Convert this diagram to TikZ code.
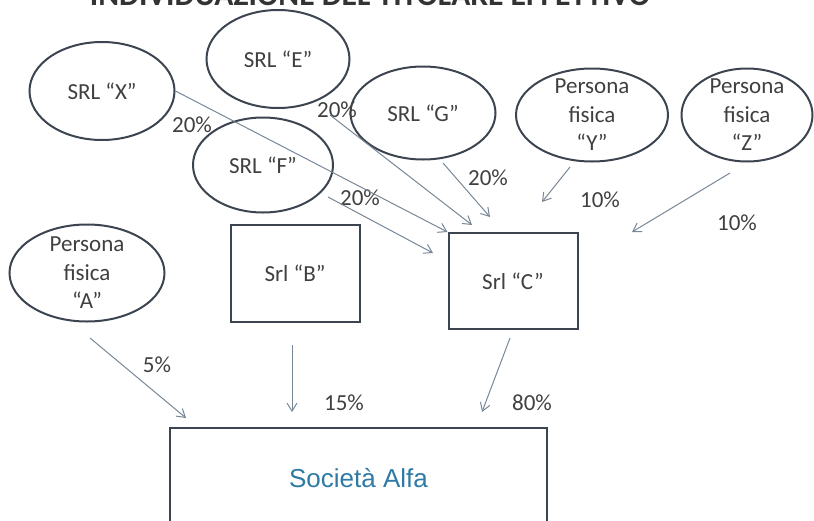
\documentclass[tikz,border=0pt]{standalone}
\usepackage{fontspec}
\setmainfont{Carlito}
\newfontfamily\arialfont{Liberation Sans}
\usetikzlibrary{shapes.geometric,arrows.meta}
\definecolor{edgegrey}{RGB}{60,68,80}
\definecolor{arrgrey}{RGB}{120,135,150}
\definecolor{txtgrey}{RGB}{64,64,64}
\definecolor{alfablue}{RGB}{46,122,165}

\begin{document}
\begin{tikzpicture}
         [x=0.5pt,y=-0.5pt,
          every node/.style={font=\fontsize{11.5}{14.25}\selectfont, text=txtgrey, inner sep=0pt},
          ent/.style={ellipse, draw=edgegrey, line width=1pt},
          box/.style={rectangle, draw=edgegrey, line width=1pt},
          arr/.style={draw=arrgrey, line width=0.5pt, -{Straight Barb[length=4pt,width=5pt]}}]
         \useasboundingbox (0,0) rectangle (814,520);
         \clip (0,0) rectangle (814,520);
         \node[font=\fontsize{15.8}{18}\selectfont\bfseries, text=black!80, anchor=base] (title) at (370,5) {INDIVIDUAZIONE DEL TITOLARE EFFETTIVO};
         % soci
         \node[ent, minimum width=72.5pt, minimum height=49pt] (x) at (102,91) {SRL “X”};
         \node[ent, minimum width=71.5pt, minimum height=49pt] (e) at (278,59) {SRL “E”};
         \node[ent, minimum width=70pt, minimum height=47.5pt] (f) at (263,165) {SRL “F”};
         \node[ent, minimum width=72.5pt, minimum height=46.5pt] (g) at (423,113) {SRL “G”};
         \node[ent, minimum width=76pt, minimum height=46.5pt, label={[align=center]center:Persona\\fisica\\“Y”}] (y) at (592,115) {};
         \node[ent, minimum width=65.5pt, minimum height=46.5pt, label={[align=center]center:Persona\\fisica\\“Z”}] (z) at (747,115) {};
         \node[ent, minimum width=77.5pt, minimum height=48.5pt, label={[align=center]center:Persona\\fisica\\“A”}] (a) at (87,273) {};
         \node[box, minimum width=64.5pt, minimum height=48.5pt] (b) at (295,273) {Srl “B”};
         \node[box, minimum width=64.5pt, minimum height=48pt] (c) at (513,281) {Srl “C”};
         \node[box, minimum width=188.5pt, minimum height=50pt, text=alfablue, font=\arialfont\fontsize{13}{15}\selectfont] (alfa) at (358.5,478) {Società Alfa};
         % quote
         \node (px) at (192,125) {20\%};
         \node (pe) at (337,110) {20\%};
         \node (pf) at (360,198) {20\%};
         \node (pg) at (488,178) {20\%};
         \node (py) at (600,200) {10\%};
         \node (pz) at (737,223) {10\%};
         \node (pa) at (157,365) {5\%};
         \node (pb) at (344,403) {15\%};
         \node (pc) at (532,403) {80\%};
         % estremi frecce
         \coordinate (e1) at (330,115);  \coordinate (e2) at (472,225);
         \coordinate (f1) at (328,197);  \coordinate (f2) at (433,253);
         \coordinate (g1) at (443,163);  \coordinate (g2) at (490,217);
         \coordinate (y1) at (570,167);  \coordinate (y2) at (542,202);
         \coordinate (z1) at (730,173);  \coordinate (z2) at (632,232);
         \coordinate (a1) at (90,338);   \coordinate (a2) at (186,418);
         \coordinate (b1) at (292,345);  \coordinate (b2) at (292,412);
         \coordinate (c1) at (510,338);  \coordinate (c2) at (482,412);
         \draw[arr] (x.east) -- (c.north west);
         \foreach \from/\to in {e1/e2, f1/f2, g1/g2, y1/y2, z1/z2, a1/a2, b1/b2, c1/c2}
            \draw[arr] (\from) -- (\to);
\end{tikzpicture}
\end{document}
